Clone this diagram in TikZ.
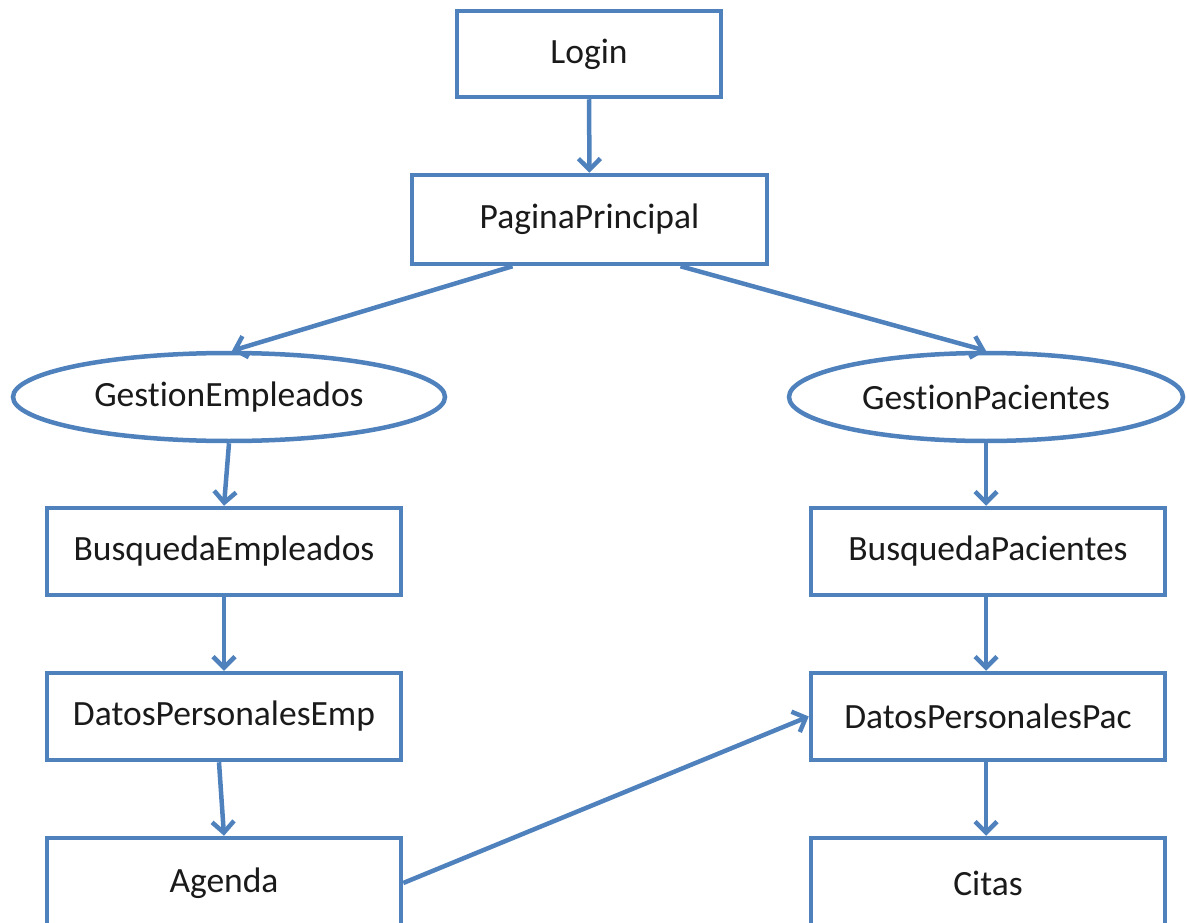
\documentclass[tikz,border=0pt]{standalone}
\usepackage{fontspec}
\setmainfont{Carlito}[Ligatures=NoCommon]
\usetikzlibrary{arrows.meta,shapes.geometric}
\definecolor{flowblue}{HTML}{4F81BD}
\definecolor{flowtext}{HTML}{1A1A1A}
\begin{document}
\begin{tikzpicture}[x=1pt,y=-1pt,
  every node/.style={font=\fontsize{35.5}{42}\selectfont, text=flowtext},
  pagebox/.style={draw=flowblue, line width=4.5pt, fill=white, rectangle, inner sep=0pt},
  modulo/.style={draw=flowblue, line width=4.5pt, fill=white, ellipse, inner sep=0pt},
  flow/.style={draw=flowblue, line width=4.5pt, -{Straight Barb[length=11pt,width=22pt,line width=4.5pt]}}
]
\useasboundingbox (0,0) rectangle (1187,923);
\clip (0,0) rectangle (1187,923);

% pages and modules
\node[pagebox, minimum width=264pt, minimum height=86pt] (login) at (589,54) {Login};
\node[pagebox, minimum width=355pt, minimum height=89pt] (pp) at (589.5,219.5) {PaginaPrincipal};
\node[modulo, minimum width=432pt, minimum height=88pt] (ge) at (229,397) {GestionEmpleados};
\node[modulo, minimum width=394pt, minimum height=88pt] (gp) at (986,397) {GestionPacientes};

\node[pagebox, minimum width=354pt, minimum height=87pt] (be) at (224,551.5) {BusquedaEmpleados};
\node[pagebox, minimum width=354pt, minimum height=87pt] (de) at (224,716.5) {DatosPersonalesEmp};
\node[pagebox, minimum width=354pt, minimum height=90pt] (ag) at (224,883) {Agenda};

\node[pagebox, minimum width=354pt, minimum height=87pt] (bp) at (988,551.5) {BusquedaPacientes};
\node[pagebox, minimum width=354pt, minimum height=87pt] (dp) at (988,716.5) {DatosPersonalesPac};
\node[pagebox, minimum width=354pt, minimum height=90pt] (ci) at (988,883) {Citas};

% navigation
\draw[flow] (login.south) -- (pp.north);
\draw[flow] ([xshift=-77pt]pp.south) -- ([xshift=3pt]ge.north);
\draw[flow] ([xshift=91pt]pp.south) -- (gp.north);
\draw[flow] (ge.south) -- (be.north);
\draw[flow] (be.south) -- (de.north);
\draw[flow] ([xshift=-5pt]de.south) -- (ag.north);
\draw[flow] (gp.south) -- ([xshift=-2pt]bp.north);
\draw[flow] ([xshift=-2pt]bp.south) -- ([xshift=-2pt]dp.north);
\draw[flow] ([xshift=-2pt]dp.south) -- ([xshift=-2pt]ci.north);
\draw[flow] (ag.east) -- (dp.west);
\end{tikzpicture}
\end{document}
